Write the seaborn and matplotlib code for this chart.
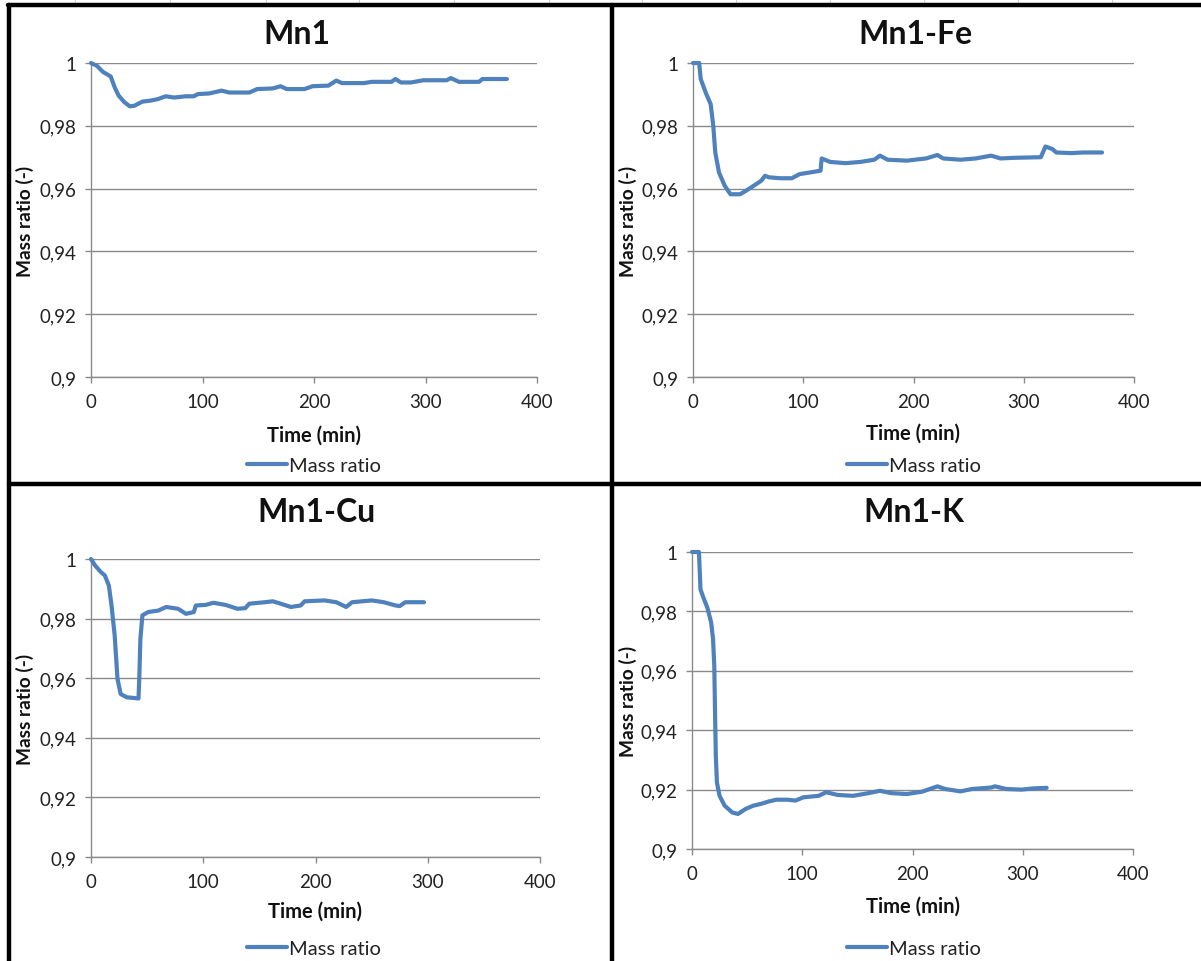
import matplotlib
matplotlib.use("Agg")
import matplotlib.pyplot as plt
from matplotlib.lines import Line2D
import seaborn as sns
import pandas as pd

# ---------------- data ----------------
titles = ["Mn1", "Mn1-Fe", "Mn1-Cu", "Mn1-K"]
series_label = "Mass ratio"
x_label = "Time (min)"
y_label = "Mass ratio (-)"
x_ticks = [0, 100, 200, 300, 400]
x_tick_labels = ["0", "100", "200", "300", "400"]
y_ticks = [0.90, 0.92, 0.94, 0.96, 0.98, 1.00]
y_tick_labels = ["0,9", "0,92", "0,94", "0,96", "0,98", "1"]

mn1_t = [0, 5.3, 10.6, 17.7, 21.3, 24.8, 30, 34.8, 39, 46, 53, 60, 67, 74.5, 85, 92, 96,
         106, 117, 124, 142, 149, 163, 170, 175.5, 191.5, 198.6, 213, 220, 225, 244.7,
         251.8, 269.5, 273, 278, 287, 298, 319, 322.7, 330, 348, 351, 373]
mn1_y = [1.0, 0.9991, 0.9972, 0.9957, 0.9922, 0.9896, 0.9875, 0.9862, 0.9864, 0.9877,
         0.9880, 0.9885, 0.9894, 0.9890, 0.9894, 0.9894, 0.9901, 0.9903, 0.9912, 0.9906,
         0.9906, 0.9917, 0.9919, 0.9926, 0.9917, 0.9917, 0.9926, 0.9928, 0.9944, 0.9936,
         0.9936, 0.9940, 0.9940, 0.9949, 0.9938, 0.9938, 0.9945, 0.9945, 0.9952, 0.9940,
         0.9940, 0.9949, 0.9949]

fe_t = [0, 5.6, 7, 11.5, 16, 18.4, 20.2, 23.6, 28.8, 34, 42.7, 48, 55, 61.9, 65.3, 68.8,
        79, 89.7, 96.6, 110.5, 115.7, 116.7, 124.4, 138.3, 152, 164.4, 169.6, 176.5,
        193.9, 211.3, 221.7, 227, 242.6, 256.5, 270.4, 279, 291, 315.5, 319.7, 326,
        329.5, 343, 353.8, 371]
fe_y = [1.0, 1.0, 0.9949, 0.9906, 0.9869, 0.9800, 0.9715, 0.9651, 0.9609, 0.9582, 0.9582,
        0.9593, 0.9609, 0.9625, 0.9641, 0.9636, 0.9633, 0.9633, 0.9646, 0.9654, 0.9657,
        0.9696, 0.9685, 0.9681, 0.9685, 0.9692, 0.9705, 0.9692, 0.9689, 0.9696, 0.9707,
        0.9696, 0.9692, 0.9696, 0.9705, 0.9696, 0.9698, 0.9700, 0.9734, 0.9726, 0.9715,
        0.9713, 0.9715, 0.9715]

cu_t = [0, 3.5, 8.8, 12.3, 15.9, 18.3, 21.1, 23.6, 26.4, 31.7, 42.3, 43, 44, 45.8, 51,
        60, 67, 77.5, 84.6, 91.6, 93.4, 102.2, 109, 119.8, 130.4, 137.4, 141, 155, 162,
        169, 178, 186.8, 190.3, 208, 218.5, 227.3, 232.6, 250.2, 260.8, 271.4, 275, 280,
        296.7]
cu_y = [1.0, 0.9979, 0.9956, 0.9945, 0.9911, 0.9844, 0.9743, 0.9598, 0.9547, 0.9536,
        0.9532, 0.9598, 0.9732, 0.9811, 0.9822, 0.9827, 0.9839, 0.9833, 0.9816, 0.9822,
        0.9844, 0.9846, 0.9853, 0.9846, 0.9833, 0.9835, 0.9850, 0.9855, 0.9858, 0.9850,
        0.9839, 0.9844, 0.9858, 0.9861, 0.9855, 0.9839, 0.9855, 0.9861, 0.9855, 0.9844,
        0.9842, 0.9855, 0.9855]

k_t = [0, 6.3, 7.7, 10.4, 13.9, 17.4, 19.1, 20.2, 20.9, 21.6, 22.6, 25, 29.6, 36.5, 41.7,
       48.7, 55.7, 62.6, 69.6, 76.5, 87, 93.9, 101, 114.8, 121.7, 132, 146, 160, 170.4,
       181, 194.8, 208.7, 222.6, 229.6, 243.5, 254, 271.3, 274.8, 285, 299, 309.6, 321.7]
k_y = [1.0, 1.0, 0.9874, 0.9846, 0.9813, 0.9762, 0.9706, 0.9617, 0.9460, 0.9314, 0.9224,
       0.9179, 0.9146, 0.9123, 0.9118, 0.9135, 0.9146, 0.9152, 0.9160, 0.9166, 0.9166,
       0.9163, 0.9174, 0.9179, 0.9191, 0.9182, 0.9179, 0.9188, 0.9196, 0.9188, 0.9185,
       0.9193, 0.9211, 0.9202, 0.9194, 0.9202, 0.9207, 0.9211, 0.9202, 0.9200, 0.9204,
       0.9206]

datasets = [(mn1_t, mn1_y), (fe_t, fe_y), (cu_t, cu_y), (k_t, k_y)]

# ---------------- layout (pixel positions of the reference) ----------------
W, H = 1201, 962
sns.set_theme(style="white")
plt.rcParams["font.family"] = ["Lato", "DejaVu Sans"]

fig = plt.figure(figsize=(W / 100, H / 100), dpi=100)
fig.patch.set_facecolor("white")

def fx(px):
    return px / W

def fy(py):
    return 1 - py / H

# (left, right, top, bottom) plot-area pixels
rects = [(91, 537, 64, 378), (693, 1134, 64, 378),
         (91, 540, 560, 858), (692, 1133, 553, 850)]
title_pos = [(297, 35), (915, 35), (317, 512), (914, 512)]
xlabel_y = [436, 434, 912, 907]
ylabel_x = [25, 628, 25, 628]
legend_pos = [(314, 466), (914, 466), (314, 949), (914, 949)]

grid_col = "#8a8a8a"
line_col = "#4F81BD"

for i, ((t, y), (l, r, tp, bt)) in enumerate(zip(datasets, rects)):
    ax = fig.add_axes([fx(l), fy(bt), fx(r) - fx(l), (bt - tp) / H])
    df = pd.DataFrame({"t": t, "y": y})
    sns.lineplot(data=df, x="t", y="y", ax=ax, color=line_col, linewidth=3.0,
                 estimator=None, sort=False, label=series_label)
    for ln in ax.lines:
        ln.set_clip_on(False)
        ln.set_zorder(5)
        ln.set_solid_joinstyle("round")
    ax.set_xlim(0, 400)
    ax.set_ylim(0.9, 1.0)
    ax.set_xticks(x_ticks)
    ax.set_xticklabels(x_tick_labels)
    ax.set_yticks(y_ticks)
    ax.set_yticklabels(y_tick_labels)
    ax.grid(axis="y", color=grid_col, linewidth=1.0)
    ax.grid(axis="x", visible=False)
    ax.set_axisbelow(True)
    for s in ["top", "right"]:
        ax.spines[s].set_visible(False)
    for s in ["left", "bottom"]:
        ax.spines[s].set_color(grid_col)
        ax.spines[s].set_linewidth(1.0)
    ax.tick_params(axis="both", which="major", direction="out", length=4.5,
                   width=1.0, color=grid_col, labelsize=13.5, labelcolor="#222222")
    ax.tick_params(axis="y", pad=6)
    ax.tick_params(axis="x", pad=7)
    ax.tick_params(left=True, bottom=True)

    ax.set_xlabel(x_label, fontsize=14.5, fontweight="bold", color="#111111")
    ax.set_ylabel(y_label, fontsize=13.8, fontweight="bold", color="#111111")
    ax.xaxis.set_label_coords(0.5, (bt - xlabel_y[i]) / (bt - tp), transform=ax.transAxes)
    ax.xaxis.label.set_va("center")
    ax.xaxis.label.set_ha("center")
    ax.yaxis.set_label_coords((ylabel_x[i] - l) / (r - l), 0.5)
    ax.yaxis.label.set_va("center")

    # title
    fig.text(fx(title_pos[i][0]), fy(title_pos[i][1]), titles[i], ha="center",
             va="center", fontsize=23, fontweight="bold", color="#111111")

    leg = ax.legend(loc="center", bbox_to_anchor=(fx(legend_pos[i][0]), fy(legend_pos[i][1])),
                    bbox_transform=fig.transFigure, frameon=False, fontsize=14.5,
                    handlelength=2.0, handletextpad=0.12, borderaxespad=0)
    for txt in leg.get_texts():
        txt.set_color("#222222")
    for h in leg.get_lines():
        h.set_linewidth(3.0)

# spreadsheet cell marks above the chart border
for px in [75, 170, 266, 359, 454, 549, 642, 736, 830, 924, 1018, 1112]:
    fig.add_artist(Line2D([fx(px), fx(px)], [fy(0), fy(5)], color="#d0d0d0",
                          linewidth=0.8, transform=fig.transFigure))

# thick black chart borders
bw = 3.2
fig.add_artist(Line2D([fx(8), fx(W)], [fy(6), fy(6)], color="black", linewidth=bw,
                      transform=fig.transFigure))
fig.add_artist(Line2D([fx(9), fx(9)], [fy(6), fy(H)], color="black", linewidth=bw,
                      transform=fig.transFigure))
fig.add_artist(Line2D([fx(612), fx(612)], [fy(6), fy(H)], color="black", linewidth=bw,
                      transform=fig.transFigure))
fig.add_artist(Line2D([fx(9), fx(W)], [fy(485), fy(485)], color="black", linewidth=bw,
                      transform=fig.transFigure))

fig.savefig("out.png", dpi=100, facecolor="white")
